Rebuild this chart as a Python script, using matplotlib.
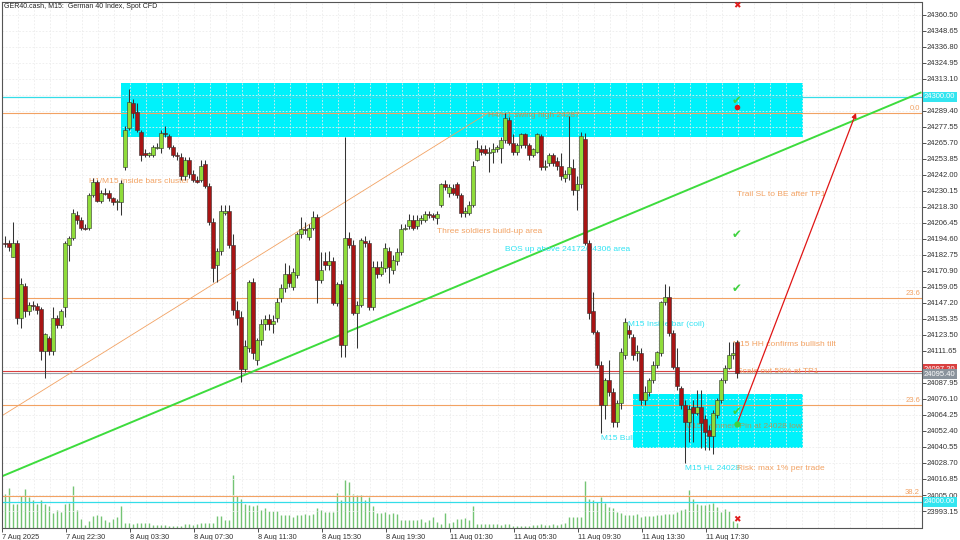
import matplotlib
matplotlib.use("Agg")
import matplotlib.pyplot as plt
from matplotlib.patches import Rectangle
from matplotlib.transforms import blended_transform_factory
import numpy as np

plt.rcParams["font.family"] = ["Liberation Sans", "DejaVu Sans"]

# ---------------- data ----------------
title_text = "GER40.cash, M15:  German 40 Index, Spot CFD"

opens = [24192, 24192, 24181, 24192, 24136, 24160, 24141, 24146, 24145, 24143,
         24112, 24121, 24112, 24136, 24131, 24144, 24190, 24195, 24212, 24209,
         24203, 24203, 24227, 24237, 24223, 24229, 24229, 24225, 24222, 24222,
         24248, 24277, 24295, 24289, 24274, 24258, 24257, 24257, 24262, 24262,
         24273, 24271, 24263, 24257, 24255, 24241, 24253, 24243, 24238, 24238,
         24250, 24234, 24207, 24175, 24186, 24214, 24215, 24190, 24142, 24137,
         24098, 24114, 24163, 24105, 24120, 24132, 24135, 24132, 24136, 24151,
         24158, 24169, 24159, 24168, 24198, 24202, 24196, 24203, 24211, 24164,
         24178, 24175, 24178, 24147, 24161, 24116, 24195, 24190, 24140, 24146,
         24193, 24192, 24144, 24174, 24169, 24173, 24186, 24172, 24178, 24185,
         24202, 24204, 24209, 24204, 24209, 24209, 24213, 24212, 24210, 24220,
         24235, 24229, 24232, 24235, 24227, 24214, 24214, 24220, 24253, 24261,
         24261, 24258, 24259, 24261, 24262, 24268, 24283, 24266, 24259, 24264,
         24272, 24264, 24257, 24259, 24271, 24248, 24251, 24257, 24252, 24249,
         24240, 24243, 24247, 24231, 24235, 24269, 24192, 24141, 24126, 24101,
         24072, 24090, 24081, 24059, 24073, 24109, 24127, 24122, 24110, 24110,
         24075, 24081, 24090, 24101, 24110, 24148, 24152, 24125, 24100, 24084,
         24072, 24059, 24070, 24066, 24070, 24061, 24053, 24049, 24064, 24075,
         24090, 24099, 24109, 24118]

highs = [24197, 24194, 24207, 24194, 24166, 24162, 24148, 24149, 24147, 24144,
         24125, 24123, 24144, 24138, 24143, 24193, 24197, 24217, 24215, 24211,
         24206, 24229, 24240, 24238, 24231, 24232, 24231, 24226, 24224, 24238,
         24278, 24306, 24298, 24295, 24275, 24261, 24259, 24264, 24266, 24275,
         24278, 24272, 24264, 24259, 24258, 24255, 24255, 24246, 24241, 24253,
         24253, 24236, 24210, 24188, 24220, 24220, 24220, 24198, 24149, 24141,
         24120, 24164, 24166, 24121, 24135, 24138, 24139, 24138, 24151, 24161,
         24177, 24175, 24173, 24200, 24211, 24207, 24206, 24215, 24213, 24185,
         24185, 24186, 24181, 24163, 24164, 24270, 24200, 24194, 24149, 24195,
         24197, 24194, 24178, 24178, 24178, 24192, 24189, 24183, 24188, 24206,
         24206, 24213, 24212, 24212, 24212, 24215, 24215, 24214, 24215, 24236,
         24238, 24235, 24235, 24237, 24229, 24218, 24223, 24252, 24268, 24264,
         24264, 24263, 24266, 24264, 24270, 24288, 24285, 24272, 24266, 24273,
         24273, 24266, 24262, 24273, 24272, 24253, 24258, 24258, 24255, 24258,
         24246, 24286, 24254, 24241, 24274, 24273, 24194, 24155, 24127, 24104,
         24092, 24105, 24084, 24075, 24114, 24136, 24131, 24124, 24116, 24114,
         24086, 24092, 24104, 24112, 24149, 24161, 24160, 24127, 24114, 24086,
         24075, 24072, 24075, 24083, 24083, 24064, 24057, 24068, 24077, 24092,
         24101, 24118, 24118, 24120]

lows = [24189, 24186, 24181, 24132, 24129, 24137, 24138, 24142, 24139, 24105,
        24092, 24109, 24109, 24129, 24129, 24137, 24178, 24194, 24206, 24201,
        24201, 24201, 24226, 24222, 24221, 24227, 24223, 24220, 24216, 24212,
        24246, 24275, 24284, 24274, 24252, 24255, 24255, 24255, 24261, 24258,
        24270, 24261, 24255, 24253, 24238, 24238, 24240, 24237, 24236, 24237,
        24232, 24205, 24163, 24163, 24183, 24212, 24188, 24138, 24131, 24089,
        24096, 24111, 24106, 24101, 24116, 24127, 24127, 24125, 24133, 24148,
        24155, 24159, 24157, 24166, 24195, 24198, 24194, 24201, 24147, 24162,
        24172, 24172, 24146, 24145, 24107, 24107, 24188, 24138, 24114, 24144,
        24189, 24142, 24142, 24166, 24167, 24170, 24162, 24169, 24175, 24183,
        24201, 24202, 24201, 24202, 24206, 24207, 24210, 24209, 24206, 24218,
        24231, 24226, 24227, 24225, 24211, 24211, 24212, 24218, 24252, 24257,
        24257, 24244, 24251, 24259, 24251, 24266, 24264, 24257, 24257, 24262,
        24262, 24253, 24255, 24258, 24246, 24246, 24249, 24249, 24246, 24238,
        24237, 24238, 24227, 24216, 24232, 24190, 24135, 24124, 24099, 24051,
        24061, 24078, 24055, 24055, 24069, 24106, 24121, 24105, 24104, 24072,
        24072, 24078, 24088, 24099, 24108, 24146, 24123, 24098, 24083, 24069,
        24029, 24044, 24044, 24064, 24040, 24038, 24038, 24035, 24062, 24073,
        24088, 24098, 24106, 24092]

closes = [24191, 24189, 24192, 24136, 24161, 24141, 24146, 24145, 24142, 24112,
          24124, 24112, 24136, 24131, 24141, 24192, 24195, 24214, 24209, 24203,
          24202, 24227, 24237, 24223, 24229, 24228, 24225, 24222, 24223, 24236,
          24275, 24296, 24288, 24275, 24257, 24257, 24258, 24263, 24263, 24273,
          24272, 24263, 24257, 24256, 24241, 24253, 24243, 24238, 24237, 24249,
          24234, 24207, 24173, 24186, 24215, 24215, 24190, 24142, 24136, 24098,
          24115, 24163, 24110, 24120, 24132, 24135, 24132, 24134, 24148, 24158,
          24169, 24162, 24170, 24198, 24202, 24201, 24203, 24211, 24164, 24172,
          24175, 24178, 24147, 24161, 24116, 24195, 24190, 24140, 24146, 24194,
          24192, 24144, 24174, 24169, 24174, 24188, 24174, 24179, 24185, 24202,
          24203, 24209, 24203, 24209, 24210, 24213, 24212, 24211, 24213, 24235,
          24233, 24233, 24229, 24227, 24214, 24215, 24220, 24249, 24262, 24259,
          24258, 24259, 24261, 24263, 24268, 24284, 24266, 24259, 24264, 24272,
          24264, 24257, 24261, 24272, 24248, 24249, 24257, 24251, 24249, 24241,
          24243, 24248, 24231, 24235, 24271, 24192, 24140, 24126, 24101, 24072,
          24090, 24081, 24059, 24073, 24111, 24133, 24124, 24109, 24112, 24075,
          24081, 24090, 24101, 24111, 24148, 24152, 24125, 24100, 24086, 24072,
          24059, 24069, 24066, 24070, 24058, 24052, 24049, 24066, 24075, 24090,
          24099, 24109, 24110, 24095]

volumes = [1030, 1200, 730, 730, 950, 1180, 930, 830, 730, 830,
           730, 650, 450, 530, 480, 730, 750, 1250, 550, 280,
           80, 200, 350, 400, 350, 230, 180, 280, 330, 650,
           160, 150, 130, 160, 150, 150, 150, 80, 80, 80,
           80, 50, 50, 50, 60, 130, 130, 80, 130, 150,
           150, 150, 150, 350, 350, 230, 230, 1580, 950, 880,
           730, 700, 650, 680, 550, 600, 510, 510, 510, 400,
           380, 380, 330, 400, 400, 430, 380, 430, 600,
           550, 480, 480, 480, 1050, 850, 1430, 1380, 1030, 1000,
           1000, 850, 930, 650, 450, 450, 480, 430, 450, 430,
           230, 230, 230, 230, 230, 280, 180, 230, 330, 180,
           130, 450, 150, 180, 280, 280, 300, 250, 660, 130,
           130, 110, 110, 110, 110, 80, 110, 130, 50, 50,
           50, 50, 50, 80, 80, 110, 80, 80, 130, 80,
           130, 150, 330, 330, 330, 330, 1400, 880, 830, 780,
           930, 750, 630, 600, 480, 450, 400, 380, 380, 410,
           330, 350, 350, 350, 380, 380, 430, 430, 430, 480,
           530, 580, 1150, 880, 730, 680, 680, 710, 750, 630,
           480, 580, 510, 200, 150]

time_labels = ["7 Aug 2025", "7 Aug 22:30", "8 Aug 03:30", "8 Aug 07:30",
               "8 Aug 11:30", "8 Aug 15:30", "8 Aug 19:30", "11 Aug 01:30",
               "11 Aug 05:30", "11 Aug 09:30", "11 Aug 13:30", "11 Aug 17:30"]

# chart objects (bar index, price)
zones = [(29.0, 199.5, 24270.1, 24310.1), (157.0, 199.5, 24039.8, 24079.8)]
cyan_levels = [24300.0, 24000.0]
fib_levels = [24287.9, 24150.9, 24071.7, 24004.0]
fib_names = ["0.0", "23.6", "23.6", "38.2"]
ask_price = 24097.2
bid_price = 24095.4
green_trend = [(0.0, 24019.8), (180.0, 24242.5)]
fib_trend = [(-1.25, 24062.8), (120.75, 24287.9)]
arrow_start = (183.0, 24057.6)
arrow_end = (212.75, 24287.9)
checks = [(183.0, 24297.5), (183.0, 24197.6), (183.0, 24158.3), (183.0, 24067.2)]
crosses = [(183.0, 24367.2), (183.0, 23986.5)]

ORANGE = "#f2a263"
CYAN_T = "#2fe3f3"
OLIVE = "#a39e62"
notes = [
    ("H1/M15 inside bars cluster", 20.9, 24237.5, ORANGE, 2.5),
    ("H4/H1 swing high 24287", 120.75, 24285.7, OLIVE, 2.5),
    ("Three soldiers build-up area", 108.0, 24199.8, ORANGE, 2.5),
    ("BOS up above 24172/24306 area", 125.0, 24186.5, CYAN_T, 2.5),
    ("M15 Inside bar (coil)", 155.75, 24131.0, CYAN_T, 2.5),
    ("M15 HH confirms bullish tilt", 182.0, 24116.5, ORANGE, 2.5),
    ("Scale out 50% at TP1", 183.0, 24096.1, ORANGE, 2.5),
    ("Trail SL to BE after TP1", 183.0, 24227.2, ORANGE, 2.5),
    ("M15 Bullish", 149.0, 24047.2, CYAN_T, 0.9),
    ("M15 hammer: Pin at 24028 low", 170.0, 24056.1, OLIVE, 2.5),
    ("M15 HL 24028", 170.0, 24024.3, CYAN_T, 2.5),
    ("Risk: max 1% per trade", 183.0, 24024.3, ORANGE, 2.6),
]

# ---------------- figure ----------------
W, H = 960, 540
fig = plt.figure(figsize=(W / 100, H / 100), dpi=100)
fig.patch.set_facecolor("white")
ax_l, ax_r, ax_t, ax_b = 2.0, 921.5, 1.5, 528.0
ax = fig.add_axes([ax_l / W, (H - ax_b) / H, (ax_r - ax_l) / W, (ax_b - ax_t) / H])
ax.set_facecolor("white")

xmin = -0.75
xmax = xmin + (ax_r - ax_l) / 4.0
ymin, ymax = 23980.56, 24370.49
ax.set_xlim(xmin, xmax)
ax.set_ylim(ymin, ymax)

n = len(opens)
x = np.arange(n)
o = np.array(opens, float)
h = np.array(highs, float)
l = np.array(lows, float)
c = np.array(closes, float)
h = np.maximum(h, np.maximum(o, c))
l = np.minimum(l, np.minimum(o, c))

# grid
price_ticks = [24360.50 - 11.85 * k for k in range(32)]
grid_x = [4 * k - 0.75 for k in range(1, 58)]
ax.vlines(grid_x, ymin, ymax, colors="#ececec", linestyles=(0, (2, 2)), lw=0.6, zorder=1.5)
ax.hlines(price_ticks, xmin, xmax, colors="#ececec", linestyles=(0, (2, 2)), lw=0.6, zorder=1.5)

# zones
for (x0, x1, p0, p1) in zones:
    ax.add_patch(Rectangle((x0, p0), x1 - x0, p1 - p0, facecolor="#00f2fb", edgecolor="none", zorder=1.0))

# volumes (bottom overlay)
trans_v = blended_transform_factory(ax.transData, ax.transAxes)
vol_scale = 30.0 * (ax_b - ax_t)
ax.vlines(x, 0, np.array(volumes, float) / vol_scale, transform=trans_v,
          colors="#74c474", lw=1.0, zorder=1.2)

# horizontal levels
for p in cyan_levels:
    ax.axhline(p, color="#33dde8", lw=0.9, zorder=2)
tr_ax = blended_transform_factory(ax.transAxes, ax.transData)
for p, name in zip(fib_levels, fib_names):
    ax.axhline(p, color=ORANGE, lw=0.8, zorder=2)
    ax.text(1 - 1.5 / (ax_r - ax_l), p + 0.6, name, transform=tr_ax, ha="right", va="bottom",
            fontsize=5.5, color=ORANGE, zorder=2)
ax.axhline(ask_price, color="#d94040", lw=0.8, zorder=2)
ax.axhline(bid_price, color="#9aa0a8", lw=0.8, zorder=2)

# trend lines
def extend(p1, p2):
    (xa, ya), (xb, yb) = p1, p2
    s = (yb - ya) / (xb - xa)
    return [xmin, xmax], [ya + s * (xmin - xa), ya + s * (xmax - xa)]

gx, gy = extend(*green_trend)
ax.plot(gx, gy, color="#3ddc3d", lw=1.4, zorder=2.2, solid_capstyle="butt")
fx = [fib_trend[0][0], fib_trend[1][0]]
fy = [fib_trend[0][1], fib_trend[1][1]]
ax.plot(fx, fy, color=ORANGE, lw=0.6, zorder=2.1)

# annotations (below candles)
for txt, xi, pi, col, zo in notes:
    ax.text(xi, pi, txt, ha="left", va="center", fontsize=6.0, color=col, zorder=zo)

# candles
ax.vlines(x, l, h, colors="#333333", lw=0.75, zorder=3)
up = c >= o
body_b = np.minimum(o, c)
body_h = np.maximum(np.abs(c - o), 0.5)
ax.bar(x[up], body_h[up], bottom=body_b[up], width=0.8, color="#8fdc3a",
       edgecolor="#303030", linewidth=0.4, zorder=3.1)
ax.bar(x[~up], body_h[~up], bottom=body_b[~up], width=0.8, color="#a81414",
       edgecolor="#303030", linewidth=0.4, zorder=3.1)

# arrow and markers
ax.annotate("", xy=arrow_end, xytext=arrow_start,
            arrowprops=dict(arrowstyle="-|>", color="#e01515", lw=0.9,
                            mutation_scale=7, shrinkA=0, shrinkB=0), zorder=3.5)
for (xi, pi) in checks:
    ax.text(xi, pi, "\u2714", ha="center", va="center", fontsize=8.5, color="#3fd23f",
            family="DejaVu Sans", zorder=4)
for (xi, pi) in crosses:
    ax.text(xi, pi, "\u2716", ha="center", va="center", fontsize=6.5, color="#e01b1b",
            family="DejaVu Sans", zorder=4)
ax.plot([183.0], [24292.4], "o", color="#e01515", ms=3, zorder=4)
ax.plot([arrow_start[0]], [arrow_start[1]], "o", color="#3fd23f", ms=3.5, zorder=4)

# axes styling
for sp in ax.spines.values():
    sp.set_color("#555555")
    sp.set_linewidth(0.8)
ax.yaxis.tick_right()
ax.set_yticks(price_ticks)
hidden_under_tags = [24300.0, ask_price]
ytl = []
for p in price_ticks:
    if any(abs(p - q) < 3 for q in hidden_under_tags):
        ytl.append("")
    else:
        ytl.append(f"{p:.2f}")
ax.set_yticklabels(ytl)
ax.tick_params(axis="y", which="both", direction="out", length=3, width=0.6,
               pad=1, labelsize=5.5, colors="#333333", left=False)
tick_pos = [16 * m - 0.75 for m in range(len(time_labels))]
ax.set_xticks(tick_pos)
ax.set_xticklabels(time_labels)
for lbl in ax.get_xticklabels():
    lbl.set_horizontalalignment("left")
ax.tick_params(axis="x", direction="out", length=3, width=0.6, pad=1.5,
               labelsize=5.3, colors="#333333")

# price tags on the scale
def tag(p, txt, bg, fg, dy=0.0):
    ax.text(1.0 + 2.5 / (ax_r - ax_l), p + dy, txt, transform=tr_ax, ha="left", va="center",
            fontsize=5.5, color=fg, zorder=6, clip_on=False,
            bbox=dict(boxstyle="square,pad=0.18", fc=bg, ec="none"))

tag(24300.0, "24300.00", "#33e5f0", "white")
tag(24000.0, "24000.00", "#33e5f0", "white")
tag(ask_price, f"{ask_price:.2f}", "#d94040", "white", dy=1.0)
tag(bid_price, f"{bid_price:.2f}", "#8a939c", "white", dy=-0.8)

fig.text(4 / W, 1 - 6 / H, title_text, ha="left", va="center", fontsize=5.0, color="#222222")

fig.savefig("out.png", dpi=100)
